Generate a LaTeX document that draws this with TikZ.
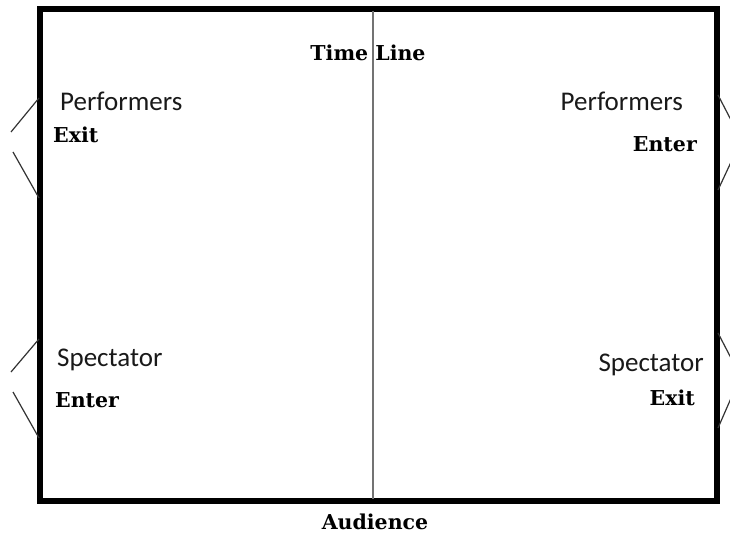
\documentclass[tikz,border=0pt]{standalone}
\usepackage{fontspec}
\setmainfont{DejaVu Serif}
\newfontfamily\labelfont{Carlito}
\usetikzlibrary{positioning}

\begin{document}
\begin{tikzpicture}[x=1pt, y=-1pt,
  stage/.style={line width=5.2pt, line join=miter},
  door/.style={line width=1.2pt, black!80},
  who/.style={font=\labelfont\fontsize{27}{30}\selectfont, text=black!90, inner sep=0pt},
  way/.style={font=\bfseries\fontsize{20.5}{24}\selectfont, inner sep=0pt}]

\useasboundingbox (0,0) rectangle (730,537);

% corners of the stage
\coordinate (tl) at (40,9);
\coordinate (br) at (717,501);
\draw[stage] (tl) rectangle (br);

% time line
\coordinate (top) at (373,11);
\coordinate (bot) at (373,499);
\draw[line width=1.3pt, black!55] (top) -- (bot);
\node[way] (time) at (368,53) {Time Line};

% left doors
\coordinate (d1a) at (39,98);
\coordinate (d1b) at (11,132);
\coordinate (d1c) at (13,152);
\coordinate (d1d) at (39,198);
\draw[door] (d1a) -- (d1b);
\draw[door] (d1c) -- (d1d);

\coordinate (d2a) at (39,339);
\coordinate (d2b) at (11,372);
\coordinate (d2c) at (13,392);
\coordinate (d2d) at (39,438);
\draw[door] (d2a) -- (d2b);
\draw[door] (d2c) -- (d2d);

% right doors
\coordinate (d3a) at (718,95);
\coordinate (d3b) at (732,122);
\coordinate (d3c) at (732,160);
\coordinate (d3d) at (718,190);
\draw[door] (d3a) -- (d3b);
\draw[door] (d3c) -- (d3d);

\coordinate (d4a) at (718,333);
\coordinate (d4b) at (732,360);
\coordinate (d4c) at (732,396);
\coordinate (d4d) at (718,428);
\draw[door] (d4a) -- (d4b);
\draw[door] (d4c) -- (d4d);

% labels
\node[who, anchor=west] (perfl) at (60,101) {Performers};
\node[way, anchor=west] (exitl) at (53,135) {Exit};
\node[who, anchor=east] (perfr) at (683,101) {Performers};
\node[way, anchor=east] (enterr) at (697,144) {Enter};

\node[who, anchor=west] (specl) at (57,360) {Spectator};
\node[way, anchor=west] (enterl) at (55,400) {Enter};
\node[who, anchor=east] (specr) at (704,365) {Spectator};
\node[way, anchor=east] (exitr) at (695,398) {Exit};

\node[way] (aud) at (375,522) {Audience};

\end{tikzpicture}
\end{document}
